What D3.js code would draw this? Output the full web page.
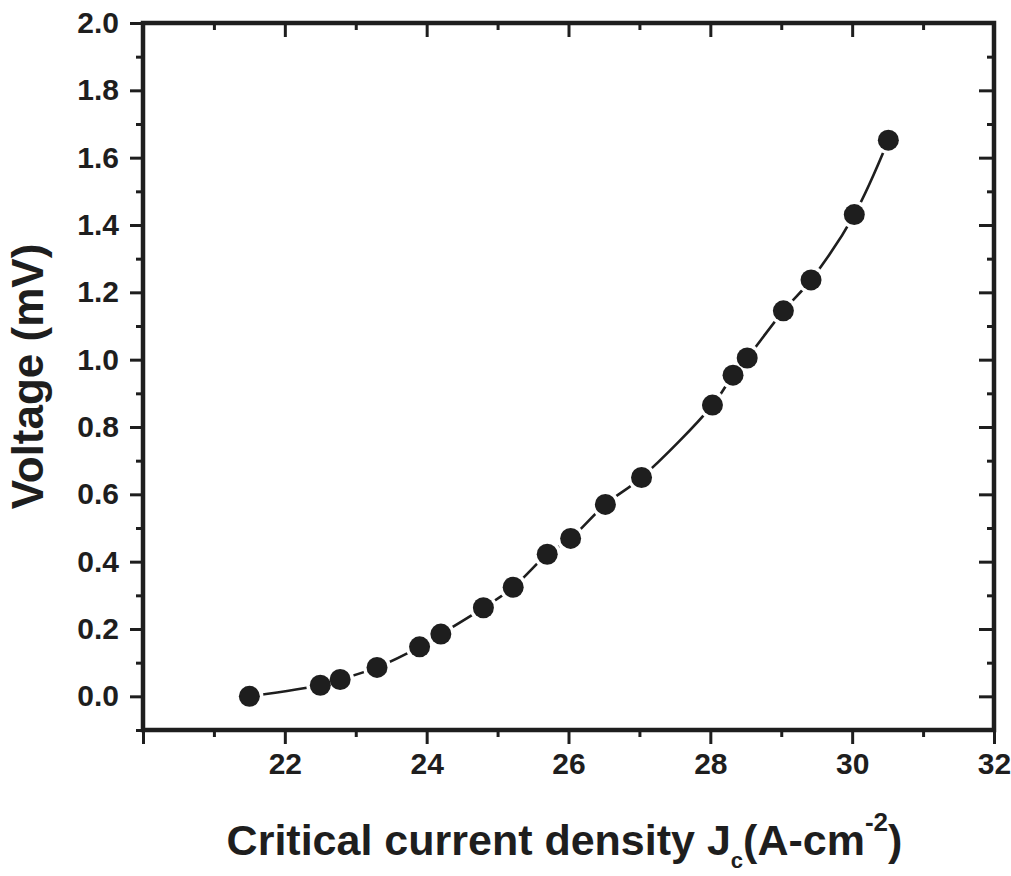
<!doctype html>
<html>
<head>
<meta charset="utf-8">
<title>Voltage vs critical current density</title>
<style>
  body { margin:0; background:#fff; }
  svg { display:block; }
  text { font-family:"Liberation Sans", Arial, sans-serif; font-weight:bold; fill:#1e1e1e; }
  .axis text { font-size:30px; }
  .axis line { stroke:#1e1e1e; stroke-width:3px; }
  .axis path { display:none; }
  .frame { fill:none; stroke:#1e1e1e; stroke-width:4.5px; }
  .curve { fill:none; stroke:#1e1e1e; stroke-width:2.6px; }
</style>
<script src="https://d3js.org/d3.v7.min.js"></script>
</head>
<body>
<svg id="chart" width="1011" height="876"></svg>
<script>

// data
var jc      = [21.5, 22.5, 22.78, 23.3, 23.9, 24.2, 24.8, 25.22, 25.7, 26.03, 26.52, 27.03, 28.03, 28.32, 28.52, 29.03, 29.42, 30.03, 30.51]
var voltage = [0.0, 0.033, 0.05, 0.086, 0.147, 0.185, 0.263, 0.324, 0.422, 0.469, 0.570, 0.650, 0.865, 0.954, 1.005, 1.145, 1.237, 1.431, 1.652]

var xMajor = [20, 22, 24, 26, 28, 30, 32]
var xMinor = [21, 23, 25, 27, 29, 31]
var yMajor = [0.0, 0.2, 0.4, 0.6, 0.8, 1.0, 1.2, 1.4, 1.6, 1.8, 2.0]
var yMinor = [-0.1, 0.1, 0.3, 0.5, 0.7, 0.9, 1.1, 1.3, 1.5, 1.7, 1.9]

var mLeft = 143, mRight = 994, mTop = 23, mBottom = 730

var svg = d3.select("#chart")

var x = d3.scaleLinear().domain([20, 32]).range([mLeft, mRight])
var y = d3.scaleLinear().domain([-0.1, 2.0]).range([mBottom, mTop])

// bottom axis, ticks outward
svg.append("g").attr("class", "axis")
   .attr("transform", "translate(0," + mBottom + ")")
   .call(d3.axisBottom(x).tickValues(xMajor).tickSize(14).tickPadding(9)
          .tickFormat(function(d){ return d == 20 ? "" : d; }))
svg.append("g").attr("class", "axis")
   .attr("transform", "translate(0," + mBottom + ")")
   .call(d3.axisBottom(x).tickValues(xMinor).tickSize(7).tickFormat(""))

// top axis, ticks inward
svg.append("g").attr("class", "axis")
   .attr("transform", "translate(0," + mTop + ")")
   .call(d3.axisBottom(x).tickValues(xMajor).tickSize(14).tickFormat(""))
svg.append("g").attr("class", "axis")
   .attr("transform", "translate(0," + mTop + ")")
   .call(d3.axisBottom(x).tickValues(xMinor).tickSize(7).tickFormat(""))

// left axis, ticks outward
svg.append("g").attr("class", "axis")
   .attr("transform", "translate(" + mLeft + ",0)")
   .call(d3.axisLeft(y).tickValues(yMajor).tickSize(13).tickPadding(11)
          .tickFormat(d3.format(".1f")))
svg.append("g").attr("class", "axis")
   .attr("transform", "translate(" + mLeft + ",0)")
   .call(d3.axisLeft(y).tickValues(yMinor).tickSize(7).tickFormat(""))

// right axis, ticks inward
svg.append("g").attr("class", "axis")
   .attr("transform", "translate(" + mRight + ",0)")
   .call(d3.axisLeft(y).tickValues(yMajor).tickSize(15).tickFormat(""))
svg.append("g").attr("class", "axis")
   .attr("transform", "translate(" + mRight + ",0)")
   .call(d3.axisLeft(y).tickValues(yMinor).tickSize(7).tickFormat(""))

svg.append("rect").attr("class", "frame")
   .attr("x", mLeft).attr("y", mTop)
   .attr("width", mRight - mLeft).attr("height", mBottom - mTop)

// curve and markers
var pts = jc.map(function(d, i){ return [d, voltage[i]]; })

var line = d3.line()
   .x(function(d){ return x(d[0]); })
   .y(function(d){ return y(d[1]); })
   .curve(d3.curveCatmullRom)

svg.append("path").attr("class", "curve").attr("d", line(pts))

svg.selectAll("circle.halo").data(pts).enter()
   .append("circle").attr("class", "halo")
   .attr("cx", function(d){ return x(d[0]); })
   .attr("cy", function(d){ return y(d[1]); })
   .attr("r", 14).attr("fill", "#fff")

svg.selectAll("circle.dot").data(pts).enter()
   .append("circle").attr("class", "dot")
   .attr("cx", function(d){ return x(d[0]); })
   .attr("cy", function(d){ return y(d[1]); })
   .attr("r", 10.5).attr("fill", "#1e1e1e")

// axis titles
svg.append("text")
   .attr("transform", "translate(43," + (mTop + mBottom) / 2 + ") rotate(-90)")
   .attr("text-anchor", "middle")
   .style("font-size", "44px")
   .text("Voltage (mV)")

var xt = svg.append("text")
   .attr("x", (mLeft + mRight) / 2 - 4).attr("y", 855)
   .attr("text-anchor", "middle")
   .style("font-size", "43px")
xt.append("tspan").text("Critical current density J")
xt.append("tspan").attr("dy", 13).style("font-size", "22px").text("c")
xt.append("tspan").attr("dy", -13).text("(A-cm")
xt.append("tspan").attr("dy", -24).style("font-size", "26px").text("-2")
xt.append("tspan").attr("dy", 24).text(")")

</script>
</body>
</html>
